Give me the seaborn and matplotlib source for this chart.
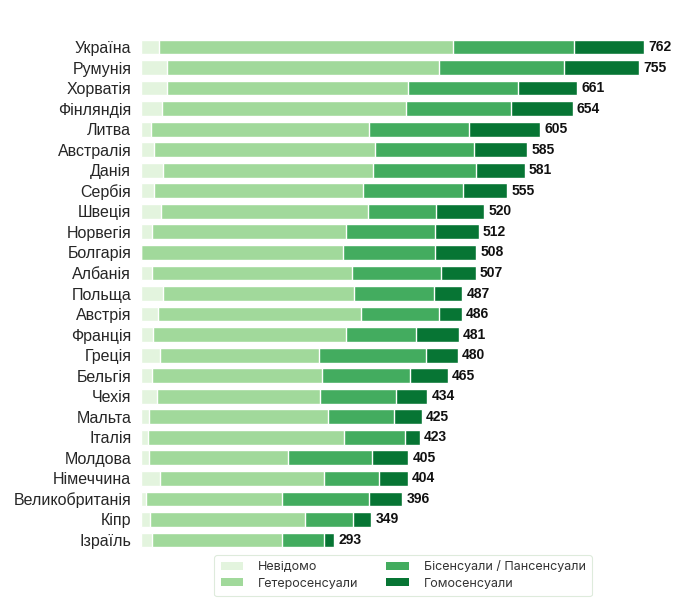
import matplotlib
matplotlib.use("Agg")
import matplotlib.pyplot as plt
from matplotlib.patches import Patch
import seaborn as sns
import pandas as pd

countries = ["Україна", "Румунія", "Хорватія", "Фінляндія", "Литва", "Австралія",
             "Данія", "Сербія", "Швеція", "Норвегія", "Болгарія", "Албанія",
             "Польща", "Австрія", "Франція", "Греція", "Бельгія", "Чехія",
             "Мальта", "Італія", "Молдова", "Німеччина", "Великобританія", "Кіпр", "Ізраїль"]
unknown = [28, 40, 40, 32, 15, 20, 33, 20, 31, 16, 0, 16, 33, 26, 18, 29, 17, 24, 12, 11, 12, 29, 8, 14, 16]
hetero = [444, 411, 364, 369, 331, 334, 318, 317, 313, 295, 306, 304, 290, 308, 293, 240, 257, 247, 271, 296, 211, 248, 206, 235, 198]
bi = [184, 190, 167, 159, 151, 151, 157, 151, 103, 135, 139, 135, 121, 118, 105, 163, 134, 116, 100, 93, 127, 83, 132, 72, 63]
homo = [106, 114, 90, 94, 108, 80, 73, 67, 73, 66, 63, 52, 43, 34, 65, 48, 57, 47, 42, 23, 55, 44, 50, 28, 16]
totals = [762, 755, 661, 654, 605, 585, 581, 555, 520, 512, 508, 507, 487, 486, 481, 480, 465, 434, 425, 423, 405, 404, 396, 349, 293]
legend_labels = ["Невідомо", "Гетеросенсуали", "Бісенсуали / Пансенсуали", "Гомосенсуали"]
colors = ["#e3f4de", "#a1d99b", "#43ac5f", "#077534"]

df = pd.DataFrame({"country": countries, "unknown": unknown, "hetero": hetero,
                   "bi": bi, "homo": homo, "total": totals})
df["c1"] = df["unknown"]
df["c2"] = df["c1"] + df["hetero"]
df["c3"] = df["c2"] + df["bi"]
df["c4"] = df["c3"] + df["homo"]

sns.set_theme(style="white")
plt.rcParams["font.family"] = ["Liberation Sans", "DejaVu Sans"]

W, H = 680, 604
fig = plt.figure(figsize=(W / 100, H / 100), dpi=100)
n = len(countries)
pitch = (540 - 47) / (n - 1)
top_px = 47 - 0.5 * pitch
bot_px = top_px + n * pitch
left_px, right_px = 141, 644
ax = fig.add_axes([left_px / W, (H - bot_px) / H, (right_px - left_px) / W, (bot_px - top_px) / H])

for col, color in zip(["c4", "c3", "c2", "c1"], colors[::-1]):
    sns.barplot(data=df, x=col, y="country", orient="h", color=color, saturation=1,
                width=0.72, edgecolor="white", linewidth=1, errorbar=None, ax=ax)

ax.set_xlim(0, 762)
ax.set_ylim(n - 0.5, -0.5)
ax.set_xlabel("")
ax.set_ylabel("")
ax.set_xticks([])
for s in ax.spines.values():
    s.set_visible(False)
ax.tick_params(axis="y", length=0, pad=7, labelsize=11.5, labelcolor="#262626")

for i, t in enumerate(totals):
    ax.text(t + 6, i, str(t), va="center", ha="left", fontsize=10, fontweight="bold",
            color="#111111", family=["Liberation Sans Narrow", "Liberation Sans", "DejaVu Sans"],
            clip_on=False)

handles = [Patch(facecolor=c, edgecolor="none") for c in colors]
leg = fig.legend(handles, legend_labels, ncol=2, loc="center",
                 bbox_to_anchor=(0.593, 0.047), frameon=True,
                 prop={"family": ["Inter", "DejaVu Sans"], "size": 9},
                 handlelength=1.8, handleheight=0.6, columnspacing=2.2,
                 borderpad=0.5, labelspacing=0.35, handletextpad=1.2, fancybox=True)
leg.get_frame().set_edgecolor("#d6e6d4")
leg.get_frame().set_linewidth(0.8)
for t in leg.get_texts():
    t.set_color("#333333")

fig.savefig("out.png", dpi=100, facecolor="white")
